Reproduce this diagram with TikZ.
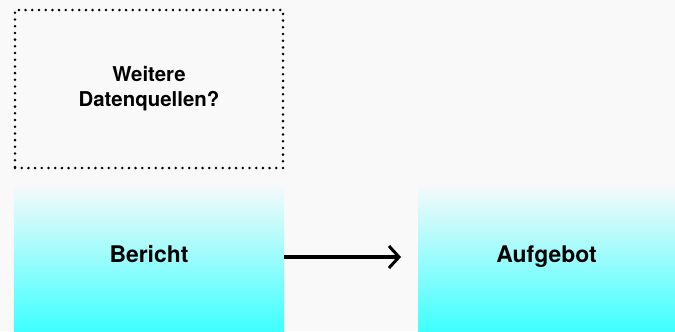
\documentclass[tikz,border=0pt]{standalone}
\usepackage{fontspec}
\setmainfont{TeX Gyre Heros}
\usepackage{tikz}
\usetikzlibrary{arrows.meta,positioning,backgrounds}
\definecolor{bgray}{HTML}{F9F9F9}
\definecolor{lightcyan}{HTML}{3FFFFF}

\begin{document}
\begin{tikzpicture}[x=1bp, y=-1bp,
    source/.style={draw, rectangle, minimum width=268bp, minimum height=158bp,
                   line width=2.8bp, dash pattern=on 0bp off 6.7bp, line cap=round,
                   font=\fontsize{20.5}{25}\selectfont\bfseries, align=center},
    stage/.style={rectangle, minimum height=148bp, inner sep=0pt,
                  text height=16bp, text depth=5bp,
                  top color=bgray, bottom color=lightcyan,
                  font=\fontsize{23}{26}\selectfont\bfseries},
    flow/.style={-{Straight Barb[length=10bp, width=22bp, line width=3bp]}, line width=3.2bp}
]

% --- canvas ---
\fill[bgray] (0,0) rectangle (675,331);
\useasboundingbox (0,0) rectangle (675,331);

% --- boxes ---
\node[source] (extra) at (149,89) {Weitere\\Datenquellen?};
\node[stage, minimum width=270bp] (report) at (149,257) {Bericht};
\node[stage, minimum width=257bp] (callout) at (546.5,257) {Aufgebot};

% --- arrow ---
\coordinate (tip) at (401,257);
\draw[flow] (report.east) -- (tip);

\end{tikzpicture}
\end{document}
